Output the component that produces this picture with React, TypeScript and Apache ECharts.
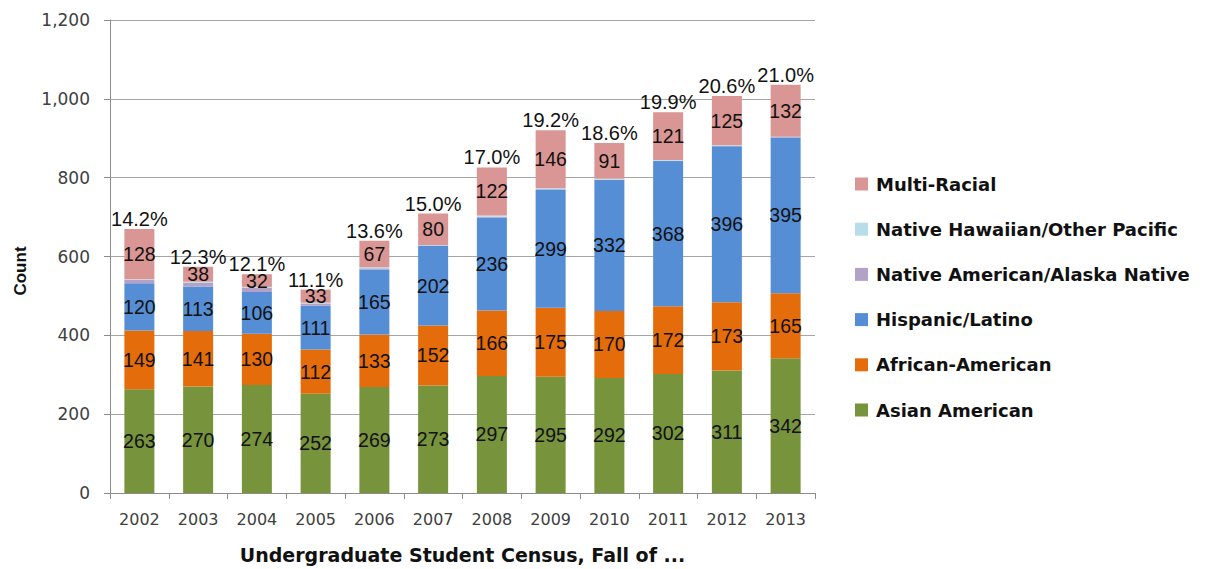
import React, { useEffect, useRef } from "react";
import * as echarts from "echarts";

const years = ["2002", "2003", "2004", "2005", "2006", "2007", "2008", "2009", "2010", "2011", "2012", "2013"];
const asianAmerican = [263, 270, 274, 252, 269, 273, 297, 295, 292, 302, 311, 342];
const africanAmerican = [149, 141, 130, 112, 133, 152, 166, 175, 170, 172, 173, 165];
const hispanicLatino = [120, 113, 106, 111, 165, 202, 236, 299, 332, 368, 396, 395];
const nativeAmerican = [9, 10, 11, 6, 3, 1, 2, 2, 1, 1, 1, 1];
const nativeHawaiian = [1, 2, 2, 2, 3, 1, 3, 3, 2, 2, 1, 1];
const multiRacial = [128, 38, 32, 33, 67, 80, 122, 146, 91, 121, 125, 132];
const percentLabels = ["14.2%", "12.3%", "12.1%", "11.1%", "13.6%", "15.0%", "17.0%", "19.2%", "18.6%", "19.9%", "20.6%", "21.0%"];
const legendOrder = [
  "Multi-Racial",
  "Native Hawaiian/Other Pacific",
  "Native American/Alaska Native",
  "Hispanic/Latino",
  "African-American",
  "Asian American",
];

const WIDE = "'DejaVu Sans', sans-serif";
const LIB = "'Liberation Sans', Arial, sans-serif";

export default function App() {
  const ref = useRef<HTMLDivElement>(null);
  useEffect(() => {
    document.body.style.margin = "0";
    const chart = echarts.init(ref.current!, null, { renderer: "svg" });
    const inside = {
      show: true,
      position: "inside",
      color: "#111",
      fontSize: 19.5,
      fontFamily: LIB,
    };
    const mk = (name: string, data: number[], color: string, label: any) => ({
      name,
      type: "bar",
      stack: "total",
      data,
      barWidth: 30,
      itemStyle: { color },
      label,
      emphasis: { disabled: true },
    });
    chart.setOption({
      animation: false,
      textStyle: { fontFamily: WIDE },
      grid: { left: 110, right: 406, top: 20, bottom: 76, containLabel: false, outerBoundsMode: "none" },
      legend: {
        orient: "vertical",
        left: 850,
        top: 168,
        padding: 5,
        itemWidth: 13,
        itemHeight: 13,
        itemGap: 23.2,
        icon: "rect",
        data: legendOrder,
        textStyle: { fontSize: 18, fontWeight: "bold", color: "#111", fontFamily: WIDE, lineHeight: 22, padding: [0, 0, 0, 3] },
        selectedMode: false,
      },
      graphic: [
        {
          type: "text",
          x: 20,
          y: 271,
          rotation: Math.PI / 2,
          style: {
            text: "Count",
            fontSize: 17,
            fontWeight: "bold",
            fontFamily: LIB,
            fill: "#111",
            align: "center",
            verticalAlign: "middle",
          },
        },
      ],
      xAxis: {
        type: "category",
        data: years,
        name: "Undergraduate Student Census, Fall of ...",
        nameLocation: "middle",
        nameGap: 52,
        nameTextStyle: { fontSize: 19, fontWeight: "bold", color: "#111", fontFamily: WIDE },
        axisLine: { lineStyle: { color: "#8c8c8c" } },
        axisTick: { show: true, length: 6, lineStyle: { color: "#8c8c8c" } },
        axisLabel: { fontSize: 16, color: "#404040", margin: 18, fontFamily: WIDE },
      },
      yAxis: {
        type: "value",
        min: 0,
        max: 1200,
        interval: 200,
        axisLine: { show: true, lineStyle: { color: "#8c8c8c" } },
        axisTick: { show: true, length: 6, lineStyle: { color: "#8c8c8c" } },
        axisLabel: {
          fontSize: 17,
          color: "#404040",
          margin: 20,
          fontFamily: WIDE,
          formatter: (v: number) => v.toLocaleString("en-US"),
        },
        splitLine: { lineStyle: { color: "#a6a6a6" } },
      },
      series: [
        mk("Asian American", asianAmerican, "#77933c", inside),
        mk("African-American", africanAmerican, "#e46c0a", inside),
        mk("Hispanic/Latino", hispanicLatino, "#558ed5", inside),
        mk("Native American/Alaska Native", nativeAmerican, "#b3a2c7", { show: false }),
        mk("Native Hawaiian/Other Pacific", nativeHawaiian, "#b7dee8", { show: false }),
        mk("Multi-Racial", multiRacial, "#d99694", inside),
        {
          name: "pct",
          type: "bar",
          stack: "total",
          data: years.map(() => 0),
          barWidth: 30,
          itemStyle: { color: "transparent" },
          label: {
            show: true,
            position: "top",
            distance: 0,
            fontSize: 20,
            color: "#111",
            fontFamily: LIB,
            formatter: (p: any) => percentLabels[p.dataIndex],
          },
          emphasis: { disabled: true },
        },
      ],
    });
    return () => chart.dispose();
  }, []);
  return <div ref={ref} style={{ width: 1221, height: 569 }} />;
}
